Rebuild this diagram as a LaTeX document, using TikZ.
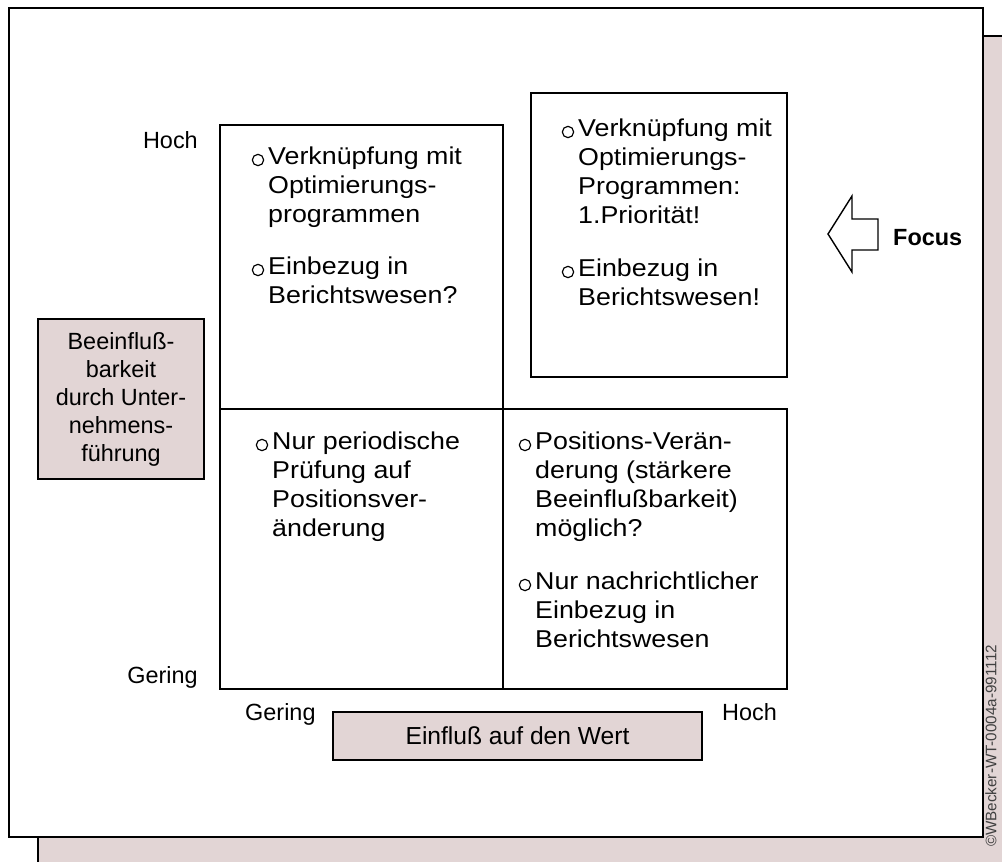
\documentclass[tikz,border=0pt]{standalone}
\usepackage{fontspec}
\setmainfont{Liberation Sans}
\newfontfamily\widefont[FakeStretch=1.1]{Liberation Sans}
\usetikzlibrary{positioning}
\definecolor{framepink}{RGB}{226,213,213}

\newcommand{\bodyfont}{\widefont\fontsize{20.8}{24.75}\selectfont}
\newcommand{\lblfont}{\fontsize{20}{23.9}\selectfont}

\begin{document}
\begin{tikzpicture}[x=0.03cm, y=-0.03cm,
    box/.style={draw, line width=1.5pt},
    pinkbox/.style={draw, line width=1.5pt, fill=framepink, inner sep=0pt, align=center, font=\lblfont},
    txt/.style={anchor=north west, inner sep=0pt, align=left, font=\bodyfont},
    bullet/.style={line width=1pt},
    lbl/.style={inner sep=0pt, font=\lblfont}]
    \useasboundingbox (0,0) rectangle (1002,861);
    \clip (0,0) rectangle (1002,861);

    % Sheets
    \draw[line width=1.5pt, fill=framepink] (38,36) rectangle (1010,870);
    \draw[line width=1.8pt, fill=white] (9,8) rectangle (983,837);

    % Quadrants
    \draw[box] (220,125) rectangle (503,409);
    \draw[box] (220,409) rectangle (503,689);
    \draw[box] (503,409) rectangle (787,689);
    \draw[box, fill=white] (531,93) rectangle (787,377);

    % Quadrant texts
    \node[txt] (hl1) at (268,147) {Verknüpfung mit\\Optimierungs-\\programmen};
    \node[txt] (hl2) at (268,257) {Einbezug in\\Berichtswesen?};
    \node[txt] (hr1) at (578,119) {Verknüpfung mit\\Optimierungs-\\Programmen:\\1.Priorität!};
    \node[txt] (hr2) at (578,259) {Einbezug in\\Berichtswesen!};
    \node[txt] (ll1) at (272,432) {Nur periodische\\Prüfung auf\\Positionsver-\\änderung};
    \node[txt] (lr1) at (535,432) {Positions-Verän-\\derung (stärkere\\Beeinflußbarkeit)\\möglich?};
    \node[txt] (lr2) at (535,572) {Nur nachrichtlicher\\Einbezug in\\Berichtswesen};
    \foreach \n in {hl1,hl2,hr1,hr2,ll1,lr1,lr2}
        \draw[bullet] ([shift={(-10,13)}]\n.north west) circle (0.17cm);

    % Axis labels
    \node[lbl, anchor=base east] (yhigh) at (198,148) {Hoch};
    \node[lbl, anchor=base east] (ylow) at (198,683) {Gering};
    \node[lbl, anchor=base west] (xlow) at (245,720) {Gering};
    \node[lbl, anchor=base west] (xhigh) at (722,720) {Hoch};
    \node[pinkbox, minimum width=11.07cm, minimum height=1.44cm, font=\fontsize{21}{24}\selectfont] (xlab) at (517.5,736) {Einfluß auf den Wert};
    \node[pinkbox, minimum width=4.98cm, minimum height=4.8cm] (ylab) at (121,399) {Beeinfluß-\\barkeit\\durch Unter-\\nehmens-\\führung};

    % Focus arrow
    \draw[line width=1.2pt, line join=miter] (828,234) -- (852,196) -- (852,219) -- (878,219) -- (878,250) -- (852,250) -- (852,272) -- cycle;
    \node[lbl, anchor=base west, font=\lblfont\bfseries] (focus) at (893,245) {Focus};

    \node[rotate=90, font=\fontsize{13}{13}\selectfont, text=black!75, inner sep=0pt] (copy) at (991,746) {©WBecker-WT-0004a-991112};
\end{tikzpicture}
\end{document}
